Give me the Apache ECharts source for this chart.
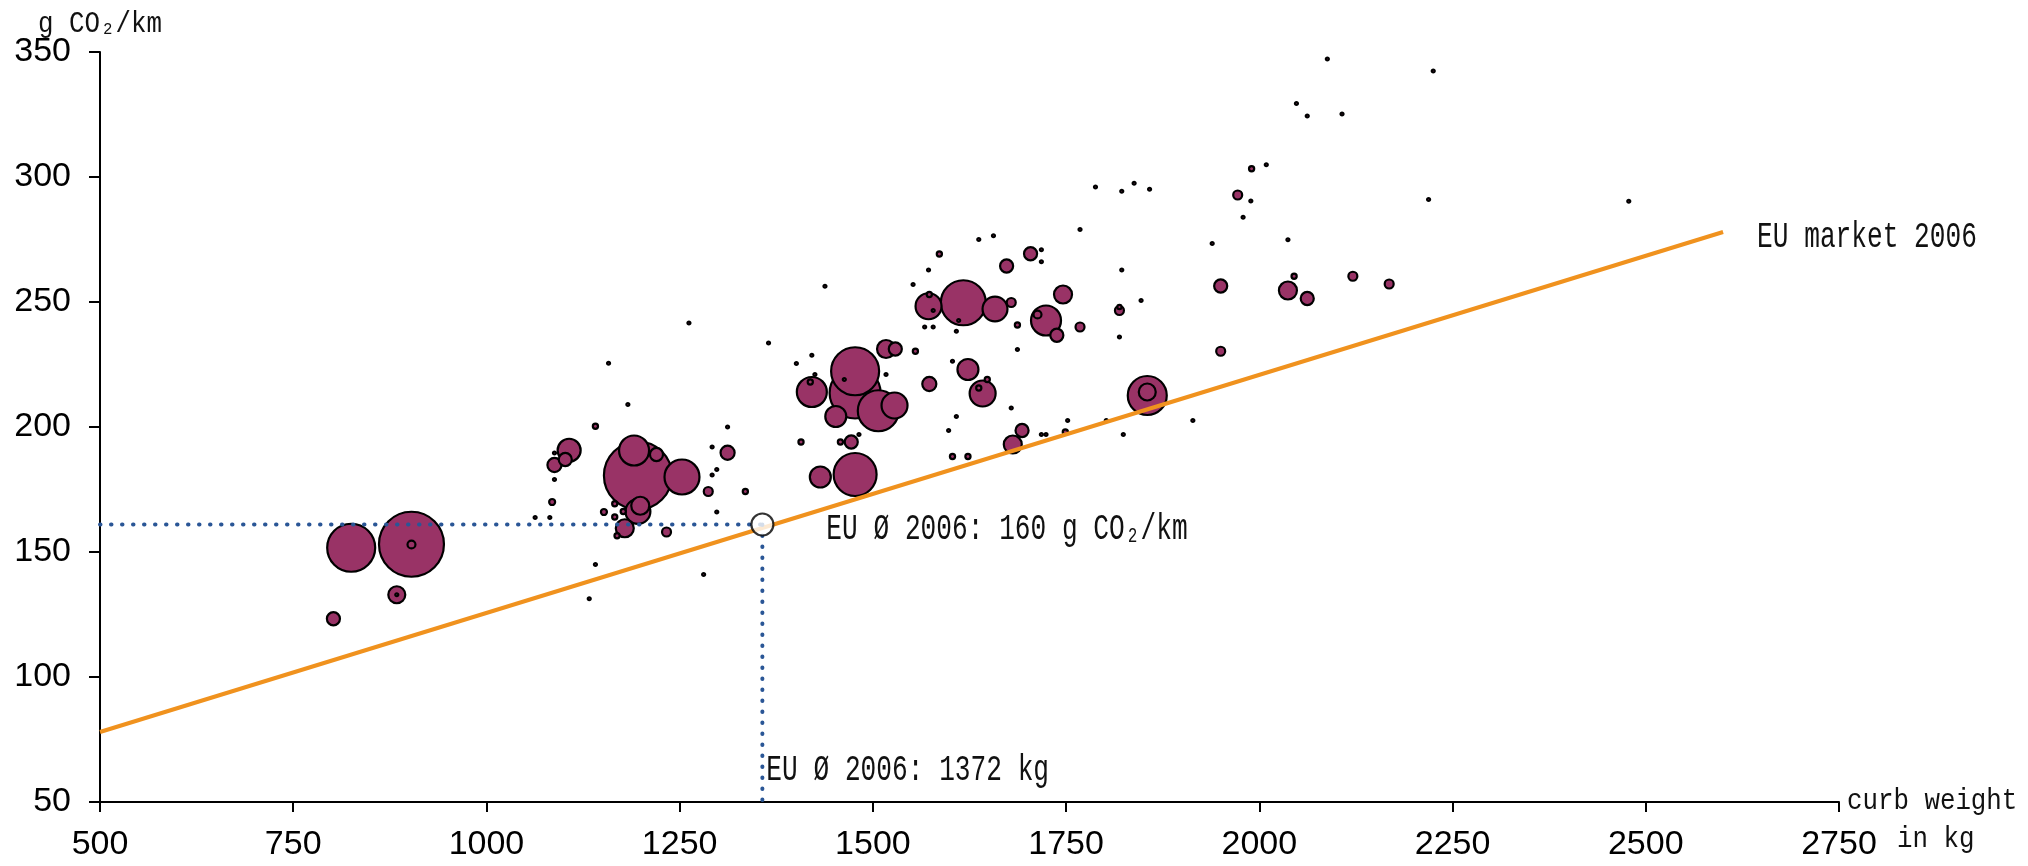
<!DOCTYPE html>
<html><head><meta charset="utf-8">
<script src="https://cdn.jsdelivr.net/npm/echarts@6/dist/echarts.min.js"></script>
<style>html,body{margin:0;padding:0;background:#fff}#c{width:2028px;height:866px}</style>
</head><body><div id="c"></div>
<script>
// ---- data ----
const xTicks = [500, 750, 1000, 1250, 1500, 1750, 2000, 2250, 2500, 2750];
const yTicks = [50, 100, 150, 200, 250, 300, 350];

// curb weight (kg), CO2 (g/km), market volume (relative units) per model
const curbWeight = [802,825,903,903,884,884,1063,1082,1085,1088,1088,1088,1102,1107,1133,1141,1141,1152,1158,1166,1166,1169,1177,1179,1183,1196,1191,1220,1196,1199,1233,1253,1262,1281,1287,1292,1298,1292,1298,1312,1312,1335,1365,1401,1407,1419,1421,1421,1425,1432,1438,1452,1458,1463,1472,1477,1477,1477,1482,1507,1517,1517,1528,1529,1552,1555,1567,1572,1572,1573,1573,1578,1578,1586,1598,1603,1603,1608,1608,1611,1617,1623,1623,1637,1637,1642,1648,1656,1658,1673,1679,1679,1681,1687,1687,1693,1704,1713,1718,1718,1718,1724,1724,1738,1746,1749,1752,1768,1768,1788,1802,1819,1819,1819,1822,1822,1824,1838,1847,1855,1855,1858,1914,1939,1950,1950,1972,1979,1989,1990,2009,2037,2037,2045,2048,2062,2062,2088,2107,2121,2168,2219,2225,2478];
const co2 = [123.3,151.7,153.1,153,132.9,132.9,163.8,163.8,170,184.8,189.6,179,187,190.7,131.3,145,200.3,166,225.5,169.3,164,156.5,166.2,159.5,209,180.6,190.6,189,166.2,168.5,158,180,241.6,141,174.2,192,183,180.8,166,189.7,200,174.2,233.6,225.4,194,218,214,228.7,221,180,256.3,204.2,194,219,194,213.6,222.3,181,197,206.5,231.2,221,208.6,231.2,257,230.3,240,248.3,262.8,253,217.2,246.6,240,269.2,198.6,226.3,188.2,204.2,238.3,242.6,249.7,223,188.2,215.6,275,213.4,219,276.5,247.2,264.4,249.8,207.6,193,240.8,231,198.6,269.3,245,270.9,266.1,197,197,242.6,236.7,253,198,202.6,279,240,296,202.6,246.6,248,236,262.8,294.3,197,297.5,250.6,212.6,214,295.1,202.6,273.4,256.4,230.3,292.8,283.9,290.4,303.3,304.9,254.6,274.9,260.3,329.4,324.4,251.4,347.2,325.2,260.3,257.2,291,342.4,290.3];
const volume = [19,256,469,7,32,1,1,1,4,22,1,1,19,59,1,1,3,4,1,3,3,3,3,36,1,514,100,19,69,36,9,136,1,1,9,1,1,1,1,22,1,3,1,1,3,3,100,1,1,49,1,49,3,1,19,289,256,205,1,187,36,1,75,19,1,3,1,75,1,3,22,1,1,3,1,1,3,1,1,1,225,49,3,3,1,75,3,1,69,19,9,1,36,3,1,19,19,7,1,1,1,1,100,19,36,3,1,1,9,1,1,9,2,1,1,1,1,1,1,169,32,1,1,1,19,9,9,1,1,3,1,36,1,3,1,1,19,1,1,9,9,1,1,1];

const euMarketLine = [[500, 78], [2600, 278]];   // EU market 2006 trend
const euAverage = [1357, 161];                     // EU average point as drawn
const euAvgCo2Text = 'EU Ø 2006: 160 g CO₂/km';
const euAvgWeightText = 'EU Ø 2006: 1372 kg';
const euMarketText = 'EU market 2006';
const xNameLines = ['curb weight', 'in kg'];
const yNameText = 'g CO₂/km';

// ---- chart ----
const points = curbWeight.map((w, i) => [w, co2[i], volume[i]])
  .sort((a, b) => b[2] - a[2]);

const chart = echarts.init(document.getElementById('c'), null, {renderer: 'canvas'});
const labelFont = "'Liberation Sans', Arial, sans-serif";
const monoFont = "'Liberation Mono', 'DejaVu Sans Mono', monospace";

chart.setOption({
  animation: false,
  backgroundColor: '#fff',
  grid: {left: 100, right: 189, top: 52, bottom: 64, containLabel: false},
  xAxis: {
    type: 'value', min: xTicks[0], max: xTicks[xTicks.length - 1], interval: xTicks[1] - xTicks[0],
    axisLine: {show: true, lineStyle: {color: '#000', width: 2}},
    axisTick: {show: true, inside: false, length: 10, lineStyle: {color: '#000', width: 2}},
    splitLine: {show: false},
    axisLabel: {color: '#000', fontSize: 34, fontFamily: labelFont, margin: 26, formatter: v => String(v)}
  },
  yAxis: {
    type: 'value', min: yTicks[0], max: yTicks[yTicks.length - 1], interval: yTicks[1] - yTicks[0],
    axisLine: {show: true, lineStyle: {color: '#000', width: 2}},
    axisTick: {show: true, inside: false, length: 11, lineStyle: {color: '#000', width: 2}},
    splitLine: {show: false},
    axisLabel: {color: '#000', fontSize: 34, fontFamily: labelFont, margin: 29, formatter: v => String(v)}
  },
  series: [
    {
      type: 'scatter', data: points, silent: true, z: 2,
      symbolSize: v => Math.sqrt(v[2]) * 3,
      itemStyle: {color: '#993366', borderColor: '#000', borderWidth: 2.2, opacity: 1}
    },
    {
      type: 'line', data: euMarketLine, silent: true, z: 5, showSymbol: false, symbol: 'none',
      lineStyle: {color: '#F0921E', width: 4}
    },
    {
      type: 'line', data: [[xTicks[0], euAverage[1]], euAverage], silent: true, z: 6, symbol: 'none',
      lineStyle: {color: '#2A5696', width: 4, type: [0.5, 10.5], cap: 'round'}
    },
    {
      type: 'line', data: [euAverage, [euAverage[0], yTicks[0]]], silent: true, z: 6, symbol: 'none',
      lineStyle: {color: '#2A5696', width: 4, type: [0.5, 10.5], cap: 'round'}
    },
    {
      type: 'scatter', data: [euAverage], silent: true, z: 8, symbolSize: 22,
      itemStyle: {color: '#fff', borderColor: '#000', borderWidth: 2.2}
    }
  ]
});

const px = v => chart.convertToPixel({gridIndex: 0}, v);
const circ = px(euAverage);
const lineEnd = px(euMarketLine[1]);
const origin = px([xTicks[0], yTicks[0]]);
const xEnd = px([xTicks[xTicks.length - 1], yTicks[0]]);
const yTop = px([xTicks[0], yTicks[yTicks.length - 1]]);

function txt(text, x, y, size, sx) {
  return {
    type: 'text', x: x, y: y, scaleX: sx, z: 100, silent: true,
    style: {text: text, fontFamily: monoFont, fontSize: size, fill: '#111',
            align: 'left', verticalAlign: 'middle', textAlign: 'left', textVerticalAlign: 'middle'}
  };
}

chart.setOption({
  graphic: [
    txt(yNameText, origin[0] - 62, yTop[1] - 28, 30, 0.86),
    txt(xNameLines[0], xEnd[0] + 8, xEnd[1] - 1, 30, 0.86),
    txt(xNameLines[1], xEnd[0] + 58, xEnd[1] + 37, 30, 0.86),
    txt(euMarketText, lineEnd[0] + 34, lineEnd[1] + 5, 36, 0.727),
    txt(euAvgCo2Text, circ[0] + 64, circ[1] + 5, 36, 0.727),
    txt(euAvgWeightText, circ[0] + 4, origin[1] - 32, 36, 0.727)
  ]
});
</script>
</body></html>
